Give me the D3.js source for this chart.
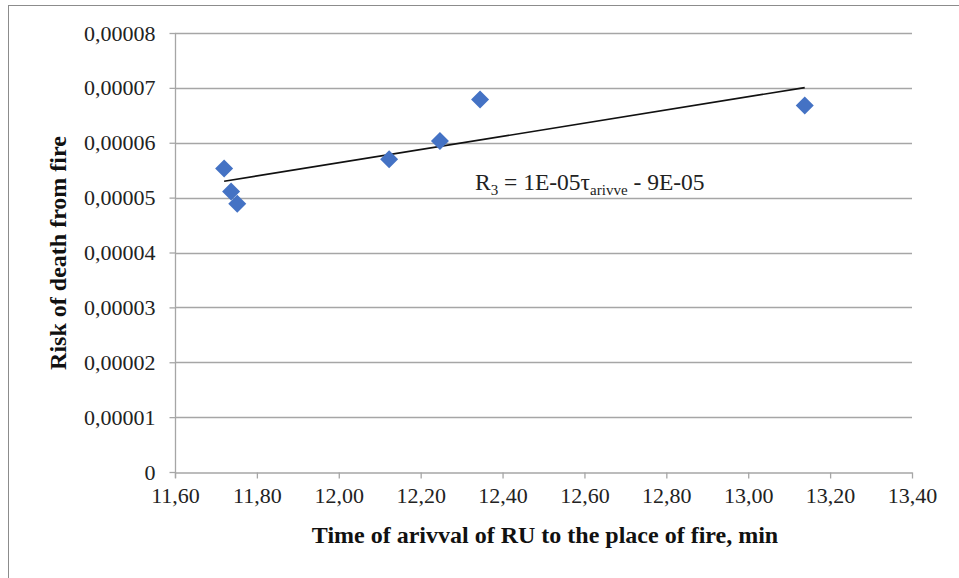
<!DOCTYPE html>
<html>
<head>
<meta charset="utf-8">
<script src="https://cdn.jsdelivr.net/npm/d3@7"></script>
<style>
  body { margin: 0; background: #fff; }
  svg { display: block; font-family: "Liberation Serif", "Times New Roman", serif; }
</style>
</head>
<body>
<div class="svg_container"></div>
<script>
// Data
var arrivalTime = [11.72, 11.737, 11.752, 12.123, 12.247, 12.345, 13.138];
var deathRisk = [0.0000553, 0.0000511, 0.0000489, 0.0000570, 0.0000603, 0.0000679, 0.0000668];
var xTicks = [11.6, 11.8, 12.0, 12.2, 12.4, 12.6, 12.8, 13.0, 13.2, 13.4];
var yTicks = [0, 0.00001, 0.00002, 0.00003, 0.00004, 0.00005, 0.00006, 0.00007, 0.00008];

var W = 959, H = 578;
var plotL = 175, plotR = 912, plotT = 33, plotB = 472;
var GRID = "#a6a6a6";

var svg = d3.select("div.svg_container")
    .append("svg")
    .attr("width", W)
    .attr("height", H);

// outer chart border (right/bottom edges fall outside the frame)
svg.append("rect")
    .attr("x", 8.5).attr("y", 5.5)
    .attr("width", W + 10).attr("height", H + 10)
    .attr("fill", "none")
    .attr("stroke", "#8c8c8c")
    .attr("stroke-width", 1);

var x = d3.scaleLinear().domain([11.6, 13.4]).range([plotL, plotR]);
var y = d3.scaleLinear().domain([0, 0.00008]).range([plotB, plotT]);

// comma decimal separator
var fmtX = function(d) { return d3.format(".2f")(d).replace(".", ","); };
var fmtY = function(d) { return d === 0 ? "0" : d3.format(".5f")(d).replace(".", ","); };

// horizontal gridlines
svg.append("g")
    .selectAll("line")
    .data(yTicks.slice(1))
    .enter()
    .append("line")
        .attr("x1", plotL).attr("x2", plotR)
        .attr("y1", function(d) { return Math.round(y(d)) + 0.5; })
        .attr("y2", function(d) { return Math.round(y(d)) + 0.5; })
        .attr("stroke", GRID)
        .attr("stroke-width", 1.3);

// y axis
var yAxis = svg.append("g")
    .attr("transform", "translate(" + (plotL + 0.5) + ",0)")
    .call(d3.axisLeft(y).tickValues(yTicks).tickFormat(fmtY).tickSizeOuter(0).tickSizeInner(6).tickPadding(14));

// x axis
var xAxis = svg.append("g")
    .attr("transform", "translate(0," + (plotB + 0.5) + ")")
    .call(d3.axisBottom(x).tickValues(xTicks).tickFormat(fmtX).tickSizeOuter(0).tickSizeInner(6).tickPadding(9));

[yAxis, xAxis].forEach(function(a) {
    a.select(".domain").attr("stroke", GRID).attr("stroke-width", 1.3);
    a.selectAll(".tick line").attr("stroke", GRID).attr("stroke-width", 1.3);
    a.selectAll("text")
        .style("font-family", '"Liberation Serif", serif')
        .style("font-size", "22px")
        .attr("fill", "#222");
});
// y axis line reaches down to the tick below zero
yAxis.select(".domain").attr("d", "M0," + plotT + "V" + (plotB + 6));

// linear trend line (least squares over the points)
var n = arrivalTime.length;
var mx = d3.mean(arrivalTime), my = d3.mean(deathRisk);
var sxy = 0, sxx = 0;
for (var i = 0; i < n; i++) {
    sxy += (arrivalTime[i] - mx) * (deathRisk[i] - my);
    sxx += (arrivalTime[i] - mx) * (arrivalTime[i] - mx);
}
var slope = sxy / sxx, icpt = my - slope * mx;
var x0 = d3.min(arrivalTime), x1 = d3.max(arrivalTime);

svg.append("line")
    .attr("x1", x(x0)).attr("y1", y(icpt + slope * x0))
    .attr("x2", x(x1)).attr("y2", y(icpt + slope * x1))
    .attr("stroke", "#111")
    .attr("stroke-width", 1.6);

// diamond markers
svg.append("g")
    .selectAll("path")
    .data(d3.range(n))
    .enter()
    .append("path")
        .attr("d", "M0,-9L9,0L0,9L-9,0Z")
        .attr("transform", function(i) { return "translate(" + x(arrivalTime[i]) + "," + y(deathRisk[i]) + ")"; })
        .attr("fill", "#4472c4");

// equation label
var eq = svg.append("text")
    .attr("x", 475)
    .attr("y", 190)
    .style("font-size", "23.5px")
    .attr("fill", "#222");
eq.append("tspan").text("R");
eq.append("tspan").attr("dy", 5).style("font-size", "15px").text("3");
eq.append("tspan").attr("dy", -5).text(" = 1E-05τ");
eq.append("tspan").attr("dy", 5).style("font-size", "15px").text("arivve");
eq.append("tspan").attr("dy", -5).text(" - 9E-05");

// axis titles
svg.append("text")
    .attr("x", 545)
    .attr("y", 543)
    .attr("text-anchor", "middle")
    .style("font-size", "24px")
    .style("font-weight", "bold")
    .attr("fill", "#111")
    .text("Time of arivval of RU to the place of fire, min");

svg.append("text")
    .attr("transform", "translate(66,253) rotate(-90)")
    .attr("text-anchor", "middle")
    .style("font-size", "24px")
    .style("font-weight", "bold")
    .attr("fill", "#111")
    .text("Risk of death from fire");
</script>
</body>
</html>
